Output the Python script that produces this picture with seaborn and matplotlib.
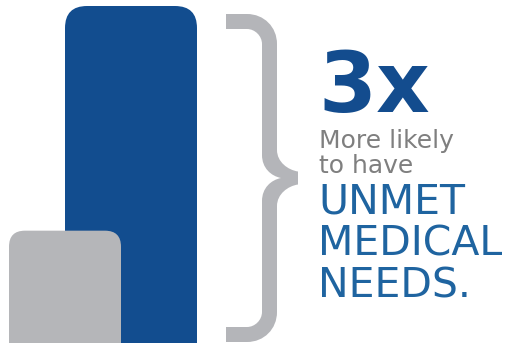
import numpy as np
import pandas as pd
import seaborn as sns
import matplotlib
matplotlib.use("Agg")
import matplotlib.pyplot as plt
from matplotlib.patches import FancyBboxPatch, PathPatch
from matplotlib.path import Path

# ---- data ----
categories = ["Comparison group", "Study group"]
values = [1.0, 3.0]
bar_colors = ["#b5b6b9", "#124d8f"]
headline = "3x"
sub_lines = ["More likely", "to have"]
main_lines = ["UNMET", "MEDICAL", "NEEDS."]

# ---- layout / style ----
W, H = 518, 343
DPI = 100
BRACE_COLOR = "#b4b5b9"
DARK_BLUE = "#134c8e"
LIGHT_BLUE = "#1f64a0"
GRAY_TEXT = "#7f7f7f"

sns.set_theme(style="white")
plt.rcParams["font.family"] = ["DejaVu Sans"]

fig = plt.figure(figsize=(W / DPI, H / DPI), dpi=DPI)
ax = fig.add_axes([0, 0, 1, 1])

df = pd.DataFrame({"group": categories, "value": values})
sns.barplot(data=df, x="group", y="value", hue="group", palette=bar_colors,
            order=categories, hue_order=categories, legend=False,
            saturation=1, ax=ax)

# axis scales: 66 px per category step, 112.33 px per value unit
px_per_x = 66.0
px_per_y = 337.0 / 3.0
x0_px = 65.0  # pixel position of first category
ax.set_xlim(-x0_px / px_per_x, (W - x0_px) / px_per_x)
ax.set_ylim(0, H / px_per_y)
ax.set_axis_off()

bar_width_px = [112.0, 132.0]
radius_px = [16.0, 22.0]
zorders = [3, 2]
aspect = (1.0 / px_per_y) / (1.0 / px_per_x)

patches = list(ax.patches)
for p in patches:
    p.remove()
for i, p in enumerate(patches):
    cx = p.get_x() + p.get_width() / 2.0
    h = p.get_height()
    w = bar_width_px[i] / px_per_x
    r = radius_px[i] / px_per_x
    extra = 0.5  # extend below baseline so bottom corners are hidden
    fb = FancyBboxPatch((cx - w / 2.0, -extra), w, h + extra,
                        boxstyle=f"round,pad=0,rounding_size={r}",
                        mutation_aspect=aspect,
                        facecolor=p.get_facecolor(), edgecolor="none",
                        zorder=zorders[i])
    ax.add_patch(fb)

# ---- overlay in pixel coordinates ----
ov = fig.add_axes([0, 0, 1, 1])
ov.set_xlim(0, W)
ov.set_ylim(H, 0)
ov.set_axis_off()
ov.patch.set_alpha(0)

# brace outline (upper half), mirrored for the lower half
MID = 178.0


def mirror(pts):
    return [(x, 2 * MID - y) for x, y in pts]


upper_outer = [  # from top-left of arm, clockwise to the tip
    (226, 14), (247, 14),
    (264, 14), (277, 27), (277, 44),
    (277, 150),
    (277, 162), (288, 170), (298, 171.5),
]
v = []
c = []
v += [(226, 14)]; c += [Path.MOVETO]
v += [(247, 14)]; c += [Path.LINETO]
v += [(264, 14), (277, 27), (277, 44)]; c += [Path.CURVE4] * 3
v += [(277, 150)]; c += [Path.LINETO]
v += [(277, 162), (288, 170), (298, 171.5)]; c += [Path.CURVE4] * 3
v += [(298, 2 * MID - 171.5)]; c += [Path.LINETO]
v += mirror([(288, 170), (277, 162), (277, 150)]); c += [Path.CURVE4] * 3
v += mirror([(277, 44)]); c += [Path.LINETO]
v += mirror([(277, 27), (264, 14), (247, 14)]); c += [Path.CURVE4] * 3
v += mirror([(226, 14)]); c += [Path.LINETO]
v += mirror([(226, 29)]); c += [Path.LINETO]
v += mirror([(247, 29)]); c += [Path.LINETO]
v += mirror([(255, 29), (262, 36), (262, 44)]); c += [Path.CURVE4] * 3
v += mirror([(262, 155)]); c += [Path.LINETO]
v += mirror([(262, 168), (271, 176), (281, MID)]); c += [Path.CURVE4] * 3
v += [(271, 176), (262, 168), (262, 155)]; c += [Path.CURVE4] * 3
v += [(262, 44)]; c += [Path.LINETO]
v += [(262, 36), (255, 29), (247, 29)]; c += [Path.CURVE4] * 3
v += [(226, 29)]; c += [Path.LINETO]
v += [(226, 14)]; c += [Path.CLOSEPOLY]
brace = PathPatch(Path(v, c), facecolor=BRACE_COLOR, edgecolor="none")
ov.add_patch(brace)

tx = 318
ov.text(tx, 112, headline, color=DARK_BLUE, fontsize=60, fontweight="bold",
        va="baseline", ha="left")
for txt, yb in zip(sub_lines, [148, 173]):
    ov.text(tx + 1, yb, txt, color=GRAY_TEXT, fontsize=18, va="baseline", ha="left")
for txt, yb in zip(main_lines, [213, 256, 298]):
    ov.text(tx, yb, txt, color=LIGHT_BLUE, fontsize=29.5, va="baseline", ha="left")

fig.savefig("out.png", dpi=DPI)
